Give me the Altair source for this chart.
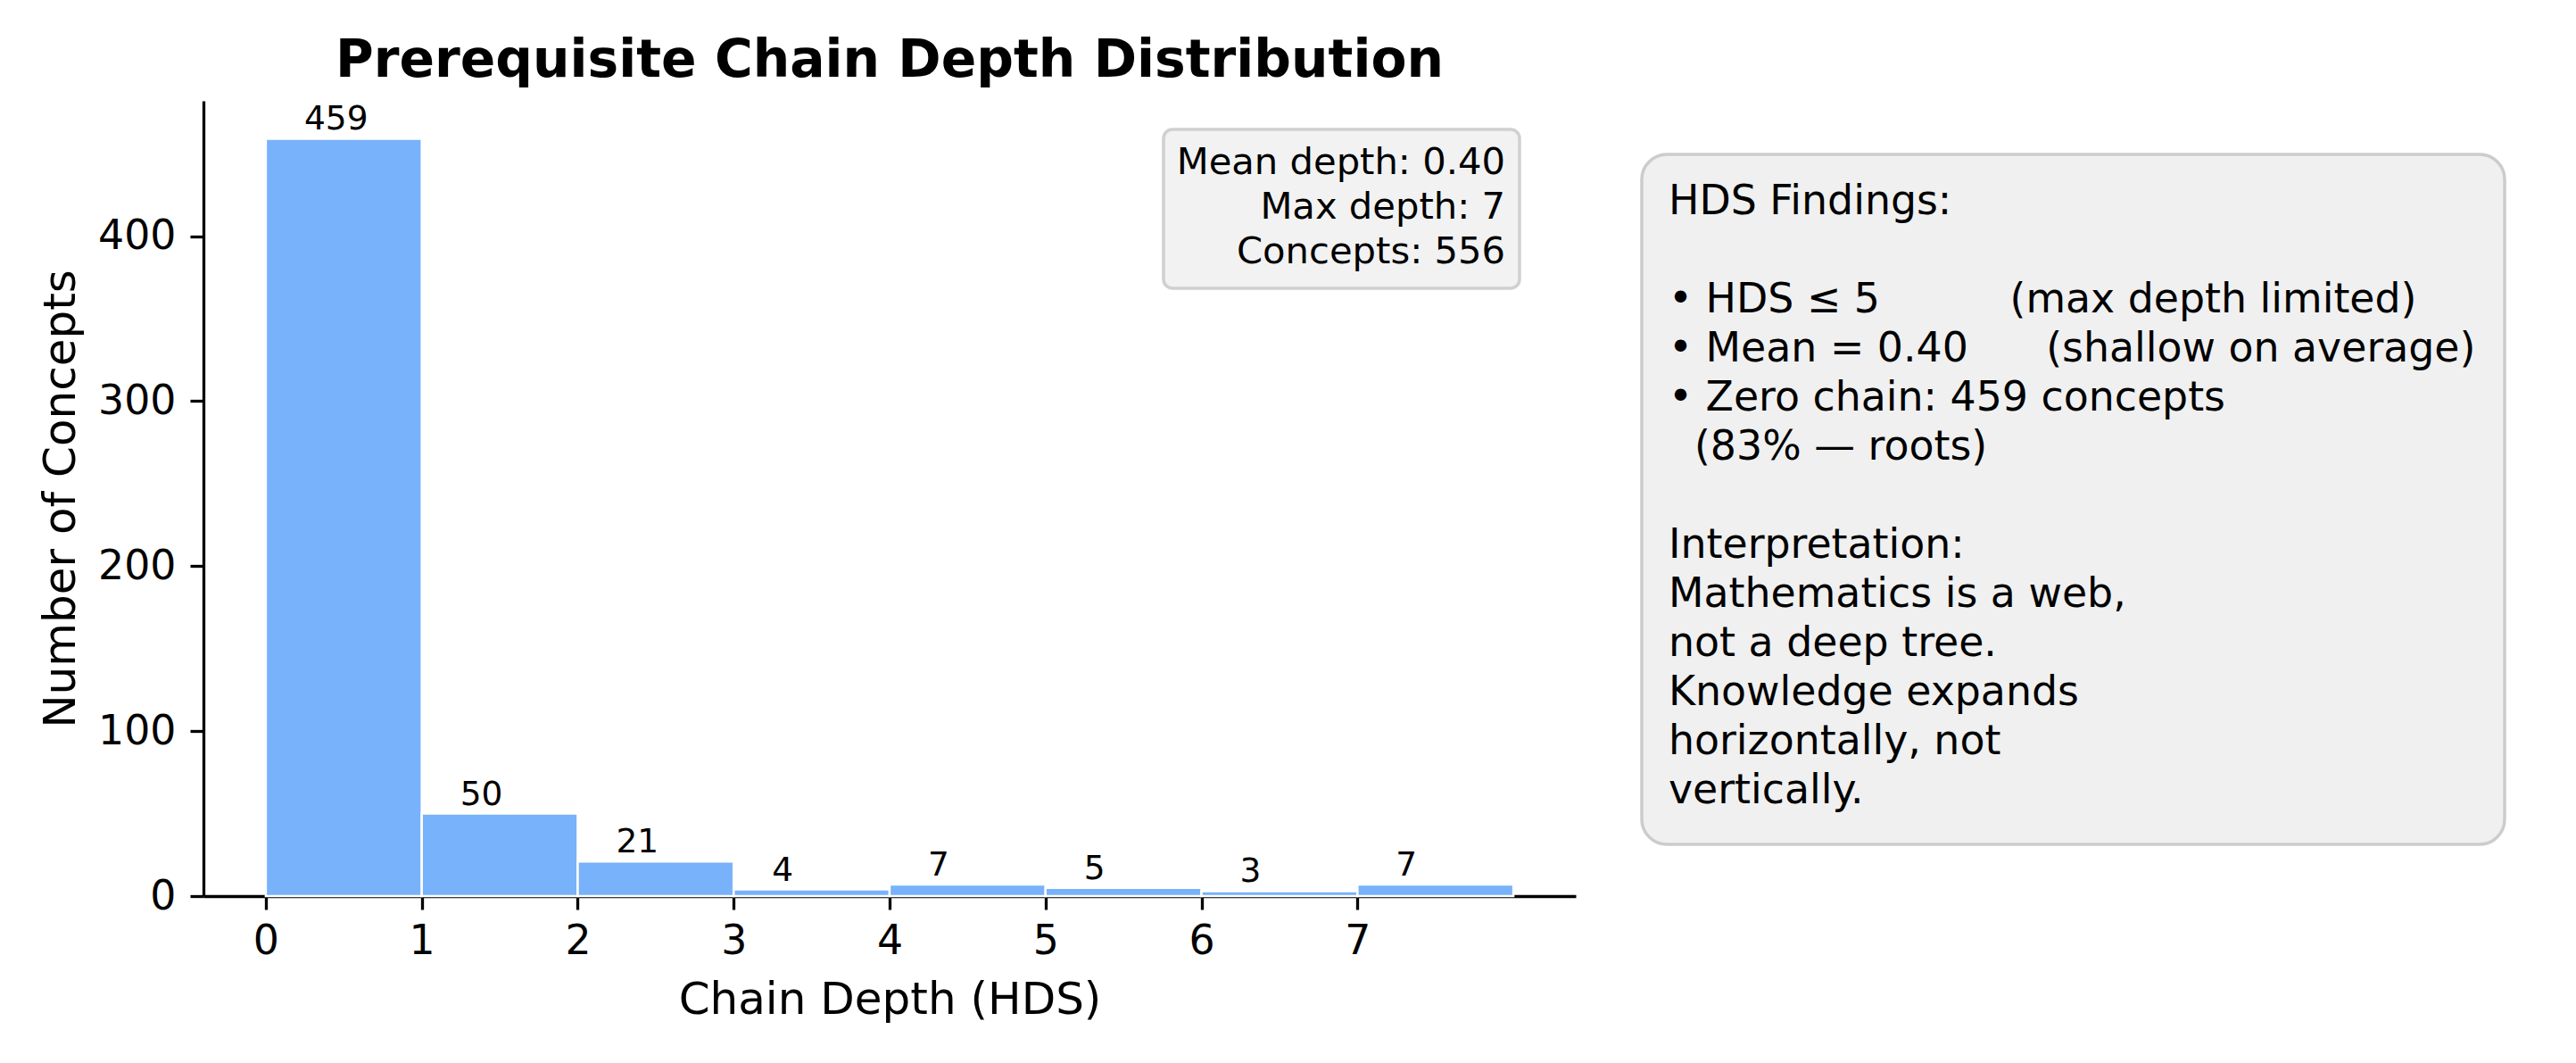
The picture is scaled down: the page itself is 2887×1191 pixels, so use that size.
import altair as alt
import pandas as pd

# ---------------- data ----------------
depth = [0, 1, 2, 3, 4, 5, 6, 7]
counts = [459, 50, 21, 4, 7, 5, 3, 7]
y_ticks = [0, 100, 200, 300, 400]

title_text = "Prerequisite Chain Depth Distribution"
x_title = "Chain Depth (HDS)"
y_title = "Number of Concepts"

stats_lines = ["Mean depth: 0.40", "Max depth: 7", "Concepts: 556"]

NB = "\u00a0"
findings_head = ["HDS Findings:"]
findings_bullets = [
    "• HDS ≤ 5" + NB * 10 + "(max depth limited)",
    "• Mean = 0.40" + NB * 6 + "(shallow on average)",
    "• Zero chain: 459 concepts",
]
findings_cont = ["(83% — roots)"]
findings_interp = [
    "Interpretation:",
    "Mathematics is a web,",
    "not a deep tree.",
    "Knowledge expands",
    "horizontally, not",
    "vertically.",
]

FONT = "DejaVu Sans"
BAR_COLOR = "#78b2fa"

df = pd.DataFrame({"depth": depth, "count": counts})
df["depth_end"] = df["depth"] + 1
one = pd.DataFrame({"k": [0]})

W, H = 1538, 891
LH = 55          # line height in findings box
FX, FY = 1642, 127  # first baseline of findings text

xs = alt.Scale(domain=[-0.4, 8.4], nice=False, zero=False)
ys = alt.Scale(domain=[0, 481.95], nice=False)

x_axis = alt.Axis(
    values=depth, format="d", title=x_title, labelAngle=0, labelFlush=False,
    tickSize=15, labelPadding=13,
    titleX=W / 2, titleY=131, titleBaseline="alphabetic", titleAlign="center",
)
y_axis = alt.Axis(
    values=y_ticks, format="d", title=y_title, tickSize=15, labelPadding=16,
    titleX=-145, titleY=H / 2, titleAngle=270, titleBaseline="alphabetic",
    titleAlign="center",
)

bars = alt.Chart(df).mark_rect(
    color=BAR_COLOR, stroke="white", strokeWidth=2.5
).encode(
    x=alt.X("depth:Q", scale=xs, axis=x_axis),
    x2="depth_end:Q",
    y=alt.Y("count:Q", scale=ys, axis=y_axis),
    y2=alt.datum(0),
)

labels = alt.Chart(df).mark_text(
    align="left", baseline="alphabetic", dx=43, dy=-10,
    fontSize=37.5, font=FONT, color="black",
).encode(
    x=alt.X("depth:Q", scale=xs),
    y=alt.Y("count:Q", scale=ys),
    text="count:Q",
)

title = alt.Chart(one).mark_text(
    align="center", baseline="alphabetic", fontSize=58.3,
    fontWeight="bold", font=FONT, color="black",
).encode(x=alt.value(W / 2), y=alt.value(-27), text=alt.value(title_text))

stats_box = alt.Chart(one).mark_rect(
    fill="#f2f2f2", stroke="#d0d0d0", strokeWidth=3.5, cornerRadius=10,
).encode(x=alt.value(1076), x2=alt.value(1475), y=alt.value(32), y2=alt.value(210))

stats_df = pd.DataFrame({"t": ["\n".join(stats_lines)]})
stats_text = alt.Chart(stats_df).mark_text(
    align="right", baseline="alphabetic", fontSize=41.7, lineHeight=50,
    lineBreak="\n", font=FONT, color="black",
).encode(x=alt.value(1459), y=alt.value(82), text="t:N")

find_box = alt.Chart(one).mark_rect(
    fill="#f0f0f0", stroke="#cccccc", strokeWidth=3.5, cornerRadius=28,
).encode(x=alt.value(1612), x2=alt.value(2579), y=alt.value(60), y2=alt.value(833))


def block(lines, line_no, indent=0):
    d = pd.DataFrame({"t": ["\n".join(lines)]})
    return alt.Chart(d).mark_text(
        align="left", baseline="alphabetic", fontSize=45.8, lineHeight=LH,
        lineBreak="\n", font=FONT, color="black",
    ).encode(x=alt.value(FX + indent), y=alt.value(FY + LH * line_no), text="t:N")


find_blocks = [
    block(findings_head, 0),
    block(findings_bullets, 2),
    block(findings_cont, 5, indent=29),
    block(findings_interp, 7),
]

chart = alt.layer(
    bars, labels, stats_box, stats_text, find_box, *find_blocks, title
).properties(
    width=W, height=H,
    autosize=alt.AutoSizeParams(type="none"),
    padding={"left": 220, "top": 105, "right": 1113, "bottom": 179},
).configure_view(
    stroke=None
).configure_axis(
    grid=False, domainColor="black", domainWidth=3.3, tickColor="black",
    tickWidth=3.3, labelColor="black", titleColor="black",
    labelFont=FONT, titleFont=FONT, labelFontSize=45.8, titleFontSize=50,
    titleFontWeight="normal",
)

chart.save("out.html", embed_options={"renderer": "svg", "actions": False})
